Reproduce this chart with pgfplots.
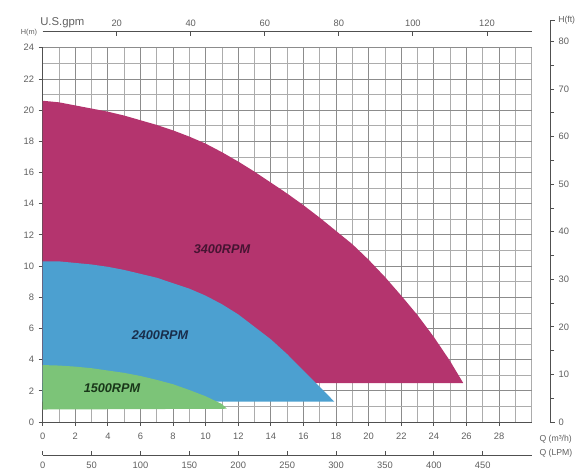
\documentclass[border=0pt]{standalone}
\usepackage{pgfplots}
\pgfplotsset{compat=1.18}
\usepackage{fontspec}
\setmainfont{Liberation Sans}
\definecolor{mag}{RGB}{180,52,110}
\definecolor{blu}{RGB}{76,160,208}
\definecolor{grn}{RGB}{124,196,120}
\definecolor{txt}{RGB}{95,95,95}
\definecolor{axl}{RGB}{80,80,80}
\pgfplotsset{every axis/.append style={scale only axis, anchor=south west,
  font=\fontsize{7}{8}\selectfont, /pgf/number format/assume math mode=true,
  tick label style={text=txt}, axis line style={-, axl, line width=0.6pt},
  tick style={axl, line width=0.6pt}}}
\begin{document}
\begin{tikzpicture}
\useasboundingbox (-32.0pt,-36pt) rectangle (407.5pt,316.5pt);
% main axis
\begin{axis}[at={(0,0)}, width=366.75pt, height=280.7pt,
  xmin=0, xmax=30, ymin=0, ymax=24,
  axis lines=left, axis line style={-},
  xtick={0,2,...,28}, ytick={0,2,...,24},
  minor xtick={1,3,...,29,30}, minor ytick={1,3,...,23},
  grid=both,
  major grid style={gray!90, line width=0.6pt},
  minor grid style={gray!65, line width=0.45pt},
  tick align=outside, major tick length=3pt, minor tick length=0pt,
  xticklabel style={yshift=-1.5pt},
  clip=false]
\addplot[fill=mag, draw=none] coordinates {
(0,20.6) (1,20.5) (2,20.3) (3,20.1) (4,19.9) (5,19.65) (6,19.35) (7,19.05)
(8,18.7) (9,18.3) (10,17.85) (11,17.3) (12,16.7) (13,16.05) (14,15.35)
(15,14.65) (16,13.9) (17,13.1) (18,12.25) (19,11.4) (20,10.4) (21,9.3)
(22,8.1) (23,6.85) (24,5.45) (25,3.9) (25.8,2.5) (0,2.5)} -- cycle;
\addplot[fill=blu, draw=none] coordinates {
(0,10.3) (1,10.3) (2,10.2) (3,10.1) (4,9.95) (5,9.75) (6,9.5) (7,9.25)
(8,8.9) (9,8.55) (10,8.1) (11,7.55) (12,6.9) (13,6.1) (14,5.3) (15,4.35)
(16,3.3) (17,2.25) (17.9,1.3) (0,1.3)} -- cycle;
\addplot[fill=grn, draw=none] coordinates {
(0,3.65) (1,3.62) (2,3.55) (3,3.45) (4,3.3) (5,3.15) (6,2.95) (7,2.7)
(8,2.42) (9,2.05) (10,1.65) (11,1.15) (11.3,0.85) (0,0.8)} -- cycle;
\node[font=\fontsize{9.5}{10}\selectfont\bfseries\itshape, text={rgb,255:red,70;green,20;blue,50}] at (axis cs:11.0,11.1) {3400RPM};
\node[font=\fontsize{9.5}{10}\selectfont\bfseries\itshape, text={rgb,255:red,25;green,45;blue,75}] at (axis cs:7.2,5.6) {2400RPM};
\node[font=\fontsize{9.5}{10}\selectfont\bfseries\itshape, text={rgb,255:red,25;green,55;blue,25}] at (axis cs:4.25,2.15) {1500RPM};
\end{axis}
% top gpm axis
\begin{axis}[at={(0,0)}, width=366.75pt, height=292.7pt,
  xmin=0, xmax=132.09, ymin=0, ymax=1,
  axis x line*=top, axis y line=none, axis line style={-},
  xtick={20,40,...,120}, tick align=inside, major tick length=3pt,
  clip=false]
\addplot[draw=none] coordinates {(0,0)};
\node[anchor=south west, font=\fontsize{8.5}{9}\selectfont, text=txt, inner sep=1pt] at (rel axis cs:0,1) [yshift=2pt, xshift=-3pt] {U.S.gpm};
\node[anchor=east, font=\fontsize{5.5}{6}\selectfont, text=txt, inner sep=1pt] at (rel axis cs:0,1) [xshift=-3pt, yshift=-1pt] {H(m)};
\end{axis}
% bottom LPM axis
\begin{axis}[at={(0,-24.75pt)}, width=366.75pt, height=10pt,
  xmin=0, xmax=500, ymin=0, ymax=1,
  axis x line*=bottom, axis y line=none, axis line style={-},
  xtick={0,50,...,450}, tick align=inside, major tick length=3pt,
  xticklabel style={yshift=-1.5pt},
  clip=false]
\addplot[draw=none] coordinates {(0,0)};
\end{axis}
% right ft axis
\begin{axis}[at={(0,0)}, width=380.5pt, height=301.5pt,
  xmin=0, xmax=1, ymin=0, ymax=84.5,
  axis y line*=right, axis x line=none, axis line style={-},
  ytick={0,10,...,80}, minor ytick={5,15,...,75},
  tick align=outside, major tick length=3pt, minor tick length=3pt,
  clip=false]
\addplot[draw=none] coordinates {(0,0)};
\draw[axl, line width=0.6pt] (rel axis cs:1,1) -- ++(4pt,0);
\draw[axl, line width=0.6pt] (rel axis cs:1,0) -- ++(4pt,0);
\node[anchor=west, font=\fontsize{6.5}{7}\selectfont, text=txt, inner sep=1pt] at (rel axis cs:1,1) [xshift=5pt] {H(ft)};
\end{axis}
\node[anchor=west, font=\fontsize{6.5}{7}\selectfont, text=txt, inner sep=1pt] at (371.5pt,-13pt) {Q (m³/h)};
\node[anchor=west, font=\fontsize{6.5}{7}\selectfont, text=txt, inner sep=1pt] at (371.5pt,-23.75pt) {Q (LPM)};
\end{tikzpicture}
\end{document}
